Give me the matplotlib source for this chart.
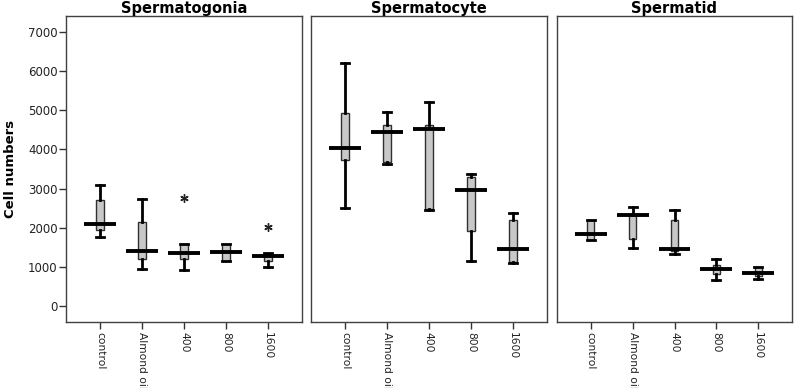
import matplotlib.pyplot as plt

plt.rcParams['font.family'] = ['DejaVu Sans']

groups = ["control", "Almond oil", "400", "800", "1600"]
panels = ["Spermatogonia", "Spermatocyte", "Spermatid"]

# per panel: whisker low, box low, median, box high, whisker high
spg_wlo = [1770, 955, 936, 1166, 1005]
spg_q1 = [1955, 1217, 1217, 1166, 1166]
spg_med = [2100, 1420, 1360, 1378, 1293]
spg_q3 = [2720, 2145, 1590, 1590, 1360]
spg_whi = [3100, 2745, 1590, 1590, 1360]
spg_out = [[], [], [2765], [], [2015]]

spc_wlo = [2510, 3633, 2450, 1166, 1110]
spc_q1 = [3724, 3683, 2492, 1930, 1122]
spc_med = [4030, 4440, 4515, 2952, 1472]
spc_q3 = [4933, 4610, 4610, 3290, 2212]
spc_whi = [6200, 4960, 5214, 3385, 2382]
spc_out = [[], [], [], [], []]

spt_wlo = [1694, 1480, 1344, 681, 699]
spt_q1 = [1694, 1719, 1403, 827, 765]
spt_med = [1846, 2339, 1472, 954, 852]
spt_q3 = [2212, 2340, 2194, 1064, 1000]
spt_whi = [2212, 2536, 2450, 1217, 1005]
spt_out = [[], [], [], [], []]

data = [
    (spg_wlo, spg_q1, spg_med, spg_q3, spg_whi, spg_out),
    (spc_wlo, spc_q1, spc_med, spc_q3, spc_whi, spc_out),
    (spt_wlo, spt_q1, spt_med, spt_q3, spt_whi, spt_out),
]

fig = plt.figure(figsize=(7.95, 3.88), dpi=100)
W, H = 795, 388
lefts = [66, 311, 557]
widths = [236, 236, 235]
top, bottom = 16, 322

pos = [1, 2, 3, 4, 5]
for i, (title, d) in enumerate(zip(panels, data)):
    ax = fig.add_axes([lefts[i] / W, 1 - bottom / H, widths[i] / W, (bottom - top) / H])
    wlo, q1, med, q3, whi, out = d
    stats = []
    for k in range(5):
        stats.append(dict(whislo=wlo[k], q1=q1[k], med=med[k], q3=q3[k],
                          whishi=whi[k], fliers=out[k]))
    ax.bxp(stats, positions=pos, widths=0.17, capwidths=0.2, patch_artist=True,
           boxprops=dict(facecolor="#c8c8c8", edgecolor="#303030", linewidth=1),
           whiskerprops=dict(color="black", linewidth=2),
           capprops=dict(color="black", linewidth=2),
           medianprops=dict(linewidth=0),
           flierprops=dict(marker=(6, 2, 0), markersize=6, markeredgewidth=1,
                           markeredgecolor="#222222"))
    ax.hlines(med, [p - 0.38 for p in pos], [p + 0.38 for p in pos],
              colors="black", linewidth=2.8, zorder=5)
    ax.set_xlim(0.19, 5.81)
    ax.set_ylim(-400, 7400)
    ax.set_xticks(pos)
    ax.set_xticklabels(groups, rotation=270, fontsize=7.7, va="top", ha="center",
                       color="#222222")
    ax.tick_params(axis="x", length=5, width=1, color="#333333", pad=2)
    if i == 0:
        ax.set_yticks(range(0, 7001, 1000))
        ax.tick_params(axis="y", length=5, width=1, color="#333333", labelsize=8.5,
                       labelcolor="#222222", pad=1)
        ax.set_ylabel("Cell numbers", fontsize=9.5, fontweight="bold", labelpad=8)
    else:
        ax.set_yticks([])
    for s in ax.spines.values():
        s.set_color("#404040")
        s.set_linewidth(1)
    ax.set_title(title, fontsize=10.5, fontweight="bold", pad=1)

fig.savefig("out.png", dpi=100)
